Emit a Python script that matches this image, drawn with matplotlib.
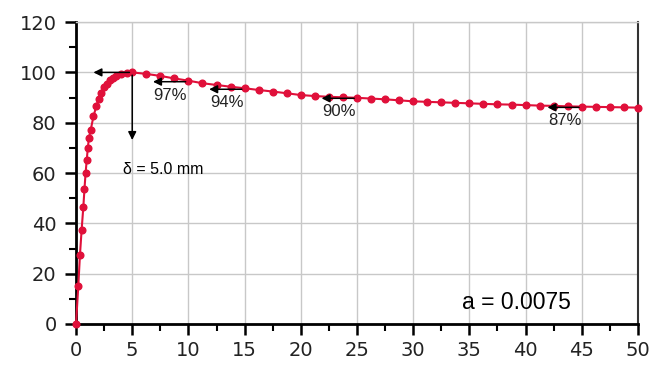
import matplotlib.pyplot as plt

# load curve (rising part, then 1.25 steps after the peak)
x_vals = [0, 0.2, 0.35, 0.5, 0.65, 0.75, 0.85, 0.95, 1.05, 1.15, 1.3, 1.55, 1.8, 2.0,
          2.25, 2.5, 2.75, 3.0, 3.3, 3.6, 4.0, 4.5, 5.0,
          6.25, 7.5, 8.75, 10, 11.25, 12.5, 13.75, 15, 16.25, 17.5, 18.75, 20,
          21.25, 22.5, 23.75, 25, 26.25, 27.5, 28.75, 30, 31.25, 32.5, 33.75, 35,
          36.25, 37.5, 38.75, 40, 41.25, 42.5, 43.75, 45, 46.25, 47.5, 48.75, 50]
y_vals = [0, 15, 27.5, 37.5, 46.5, 53.5, 60, 65, 70, 74, 77, 82.5, 86.5, 89.5,
          92, 94, 95.5, 96.8, 97.8, 98.6, 99.3, 99.8, 100,
          99.4, 98.6, 97.6, 96.7, 95.7, 95.0, 94.3, 93.7, 93.0, 92.4, 91.7, 91.0,
          90.6, 90.3, 90.1, 89.9, 89.6, 89.3, 88.9, 88.5, 88.3, 88.1, 87.9, 87.7,
          87.5, 87.3, 87.2, 87.0, 86.8, 86.7, 86.5, 86.4, 86.3, 86.2, 86.1, 86.0]

# residual-strength markers: (tip x, tail x, y, label)
pct_arrows = [(6.6, 10.0, 96.3, "97%"),
              (11.6, 15.0, 93.3, "94%"),
              (21.6, 25.0, 89.7, "90%"),
              (41.7, 45.0, 86.1, "87%")]

peak_x = 5.0
peak_y = 100
a_label = "a = 0.0075"
delta_label = "δ = 5.0 mm"

fig = plt.figure(figsize=(6.52, 3.68), dpi=100)
ax = fig.add_axes([0.1166, 0.1196, 0.8619, 0.8204])

ax.plot(x_vals, y_vals, color="#e0103a", lw=1.5, marker="o", markersize=4.8,
        zorder=3, clip_on=False)

arrow_kw = dict(arrowstyle="-|>", color="black", lw=1.1, mutation_scale=12)
ax.annotate("", xy=(1.3, peak_y), xytext=(peak_x, peak_y), arrowprops=arrow_kw, zorder=4)
ax.annotate("", xy=(peak_x, 72), xytext=(peak_x, peak_y), arrowprops=arrow_kw, zorder=4)
ax.text(4.2, 61.5, delta_label, fontsize=11.5, family="Liberation Sans", va="center")

for tip, tail, yy, lab in pct_arrows:
    ax.annotate("", xy=(tip, yy), xytext=(tail, yy), arrowprops=arrow_kw, zorder=4)
    ax.text(tip + 0.3, yy - 5.3, lab, fontsize=12, family="Liberation Sans",
            color="#222222", va="center")

ax.text(34.3, 8.7, a_label, fontsize=16.5, family="Liberation Sans", va="center")

ax.set_xlim(0, 50)
ax.set_ylim(0, 120)
ax.set_xticks(range(0, 51, 5))
ax.set_yticks(range(0, 121, 20))
ax.set_xticks([x + 2.5 for x in range(0, 50, 5)], minor=True)
ax.set_yticks(range(10, 120, 20), minor=True)
ax.grid(True, which="major", color="#c8c8c8", lw=1)
ax.set_axisbelow(True)

for side in ("left", "bottom"):
    ax.spines[side].set_linewidth(2)
    ax.spines[side].set_color("black")
ax.spines["top"].set_color("#c8c8c8")
ax.spines["top"].set_linewidth(1)
ax.spines["right"].set_color("#333333")
ax.spines["right"].set_linewidth(1.5)

ax.tick_params(which="major", length=8, width=1.8, labelsize=14)
ax.tick_params(axis="x", which="major", pad=4)
ax.tick_params(axis="y", which="major", pad=6)
ax.tick_params(which="minor", length=5, width=1.5)
for lab in ax.get_xticklabels() + ax.get_yticklabels():
    lab.set_color("#222222")

fig.savefig("out.png", dpi=100)
